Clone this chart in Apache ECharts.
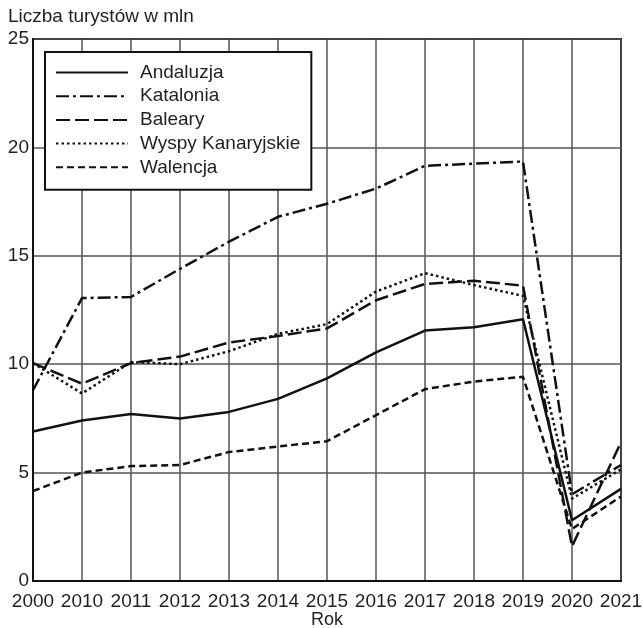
<!DOCTYPE html>
<html>
<head>
<meta charset="utf-8">
<script src="https://cdn.jsdelivr.net/npm/echarts@6/dist/echarts.min.js"></script>
<style>html,body{margin:0;padding:0;background:#fff;overflow:hidden}#c{width:643px;height:628px}</style>
</head>
<body>
<div id="c"></div>
<script>
var years = ['2000','2010','2011','2012','2013','2014','2015','2016','2017','2018','2019','2020','2021'];
var andaluzja = [6.9, 7.4, 7.7, 7.5, 7.8, 8.4, 9.35, 10.55, 11.55, 11.7, 12.07, 2.8, 4.25];
var katalonia = [8.8, 13.05, 13.1, 14.4, 15.65, 16.8, 17.4, 18.1, 19.15, 19.25, 19.35, 4.0, 5.35];
var baleary = [10.05, 9.1, 10.05, 10.35, 11.0, 11.3, 11.65, 12.95, 13.7, 13.85, 13.62, 1.6, 6.4];
var wyspy = [10.05, 8.65, 10.1, 10.0, 10.6, 11.4, 11.85, 13.35, 14.2, 13.65, 13.15, 3.8, 5.15];
var walencja = [4.15, 5.0, 5.3, 5.35, 5.95, 6.2, 6.45, 7.65, 8.85, 9.2, 9.42, 2.4, 3.9];
var yTicks = [0, 5, 10, 15, 20, 25];

var FONT = 'Liberation Sans, Arial, sans-serif';
var TXT = '#231f20';
function mk(name, data, dash) {
  return {
    name: name, type: 'line', data: data, symbol: 'none', silent: true,
    lineStyle: { color: '#111', width: 2.5, type: dash, cap: 'butt' },
    itemStyle: { color: '#111' }
  };
}
var el = document.getElementById('c');
var chart = echarts.init(el, null, { renderer: 'canvas' });
chart.setOption({
  animation: false,
  backgroundColor: '#fff',
  title: {
    text: 'Liczba turystów w mln', left: 3, top: 2,
    textStyle: { fontFamily: FONT, fontSize: 19, fontWeight: 'normal', color: TXT }
  },
  grid: { left: 33, right: 22, top: 39, bottom: 47, outerBoundsMode: 'none', containLabel: false,
    show: true, borderColor: '#111', borderWidth: 2, backgroundColor: 'transparent' },
  legend: {
    orient: 'vertical', left: 45, top: 52,
    backgroundColor: '#fff', borderColor: '#111', borderWidth: 2,
    padding: [11, 11, 13, 10],
    itemWidth: 72, itemHeight: 14, itemGap: 4.7,
    itemStyle: { opacity: 0 },
    textStyle: { fontFamily: FONT, fontSize: 19, color: TXT, padding: [0, 0, 0, 7] },
    data: ['Andaluzja', 'Katalonia', 'Baleary', 'Wyspy Kanaryjskie', 'Walencja']
  },
  xAxis: {
    type: 'category', data: years, boundaryGap: false,
    name: 'Rok', nameLocation: 'middle', nameGap: 30, nameMoveOverlap: false,
    nameTextStyle: { fontFamily: FONT, fontSize: 18, color: TXT },
    axisLine: { show: true, lineStyle: { color: '#111', width: 2 } },
    axisTick: { show: false },
    axisLabel: { fontFamily: FONT, fontSize: 19, color: TXT, margin: 11, interval: 0 },
    splitLine: { show: true, lineStyle: { color: '#555', width: 1.5 } }
  },
  yAxis: {
    type: 'value', min: yTicks[0], max: yTicks[yTicks.length - 1], interval: 5,
    axisLine: { show: true, lineStyle: { color: '#111', width: 2 } },
    axisTick: { show: false },
    axisLabel: { fontFamily: FONT, fontSize: 19, color: TXT, margin: 4 },
    splitLine: { show: true, lineStyle: { color: '#555', width: 1.5 } }
  },
  series: [
    mk('Andaluzja', andaluzja, 'solid'),
    mk('Katalonia', katalonia, [13, 4, 3, 4]),
    mk('Baleary', baleary, [14, 5]),
    mk('Wyspy Kanaryjskie', wyspy, [2.5, 3]),
    mk('Walencja', walencja, [7, 4])
  ]
});
</script>
</body>
</html>
